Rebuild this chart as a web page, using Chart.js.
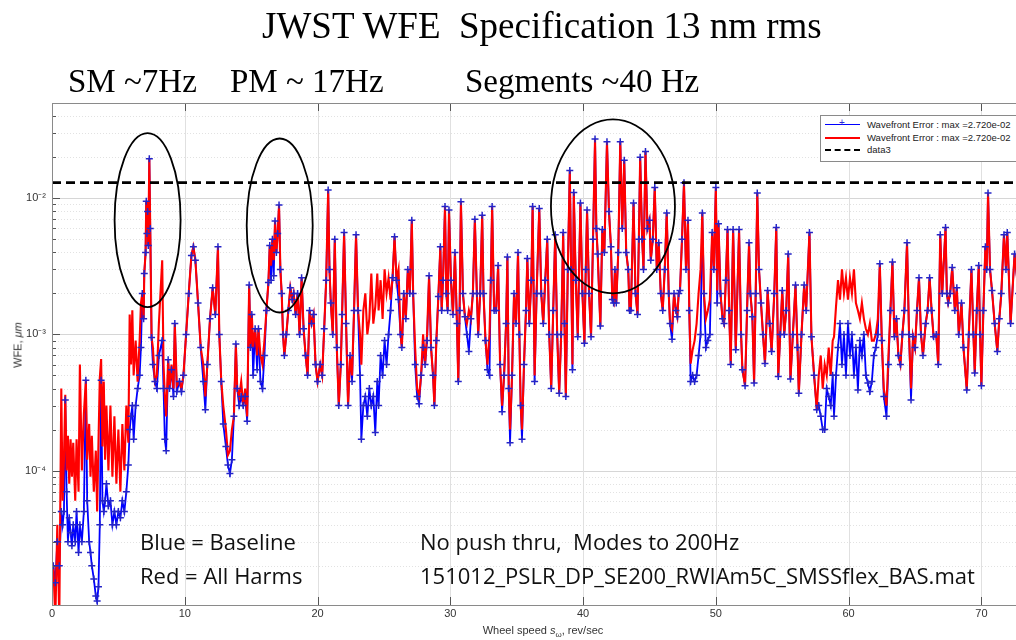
<!DOCTYPE html>
<html>
<head>
<meta charset="utf-8">
<title>JWST WFE</title>
<script src="https://cdn.jsdelivr.net/npm/chart.js@4.4.1/dist/chart.umd.min.js"></script>
<style>
  html, body { margin: 0; padding: 0; background: #fff; width: 1016px; height: 640px; overflow: hidden; }
  #wrap { position: relative; width: 1016px; height: 640px; overflow: hidden; }
  #plot { position: absolute; left: 0; top: 0; }
  .t { position: absolute; white-space: nowrap; line-height: 1; }
  .serif { font-family: "Liberation Serif", "Times New Roman", serif; color: #000; }
  .note { font-family: "Open Sans", "Noto Sans", sans-serif; font-size: 22px; color: #111; }
  .axis { font-family: "Liberation Sans Narrow", "Liberation Sans", Arial, sans-serif; font-size: 11px; color: #333; }
  .axis sub { font-size: 8px; vertical-align: -3px; line-height: 0; }
  #legend { position: absolute; left: 820px; top: 115px; width: 215px; height: 45px; border: 1px solid #8a8a8a; background: #fff;
            font-family: "Liberation Sans", Arial, sans-serif; font-size: 9.5px; color: #222; }
  .lrow { position: absolute; left: 46px; height: 12px; line-height: 12px; }
  .lsm { position: absolute; left: 4px; width: 35px; }
</style>
</head>
<body>
<div id="wrap">
  <canvas id="plot" width="1040" height="640"></canvas>

  <div class="t serif" style="left:262px;top:7px;font-size:37px">JWST WFE&nbsp; Specification 13 nm rms</div>
  <div class="t serif" style="left:68px;top:65px;font-size:33px">SM ~7Hz</div>
  <div class="t serif" style="left:230px;top:65px;font-size:33px">PM ~ 17Hz</div>
  <div class="t serif" style="left:465px;top:65px;font-size:33px">Segments ~40 Hz</div>

  <div class="t note" style="left:140px;top:530px">Blue = Baseline</div>
  <div class="t note" style="left:140px;top:564px">Red = All Harms</div>
  <div class="t note" style="left:420px;top:530px">No push thru,&nbsp; Modes to 200Hz</div>
  <div class="t note" style="left:420px;top:564px">151012_PSLR_DP_SE200_RWIAm5C_SMSSflex_BAS.mat</div>

  <div class="t axis" style="left:543px;top:625px;transform:translateX(-50%)">Wheel speed <i>s</i><sub>ω</sub>, rev/sec</div>
  <div class="t axis" style="left:18px;top:345px;transform:translate(-50%,-50%) rotate(-90deg)">WFE, <i>μm</i></div>

  <div id="legend">
    <div class="lsm" style="top:8px;border-top:1.5px solid #0000ff"></div>
    <div class="t" style="left:18px;top:2px;color:#2b2bd6;font-size:10px">+</div>
    <div class="lrow" style="top:3px">Wavefront Error : max =2.720e-02</div>
    <div class="lsm" style="top:21px;border-top:2px solid #ff0000"></div>
    <div class="lrow" style="top:16px">Wavefront Error : max =2.720e-02</div>
    <div class="lsm" style="top:33px;border-top:2.5px dashed #000"></div>
    <div class="lrow" style="top:28px">data3</div>
  </div>
</div>

<script>
// wheel speed (rev/sec) and WFE, in nm (converted to um below)
const freqHz = [
  0.1, 0.25, 0.4, 0.55, 0.7, 0.8, 0.9, 1.0, 1.1, 1.2, 1.3, 1.4, 1.5, 1.6, 1.75, 1.85, 2.0, 2.1, 2.25, 2.4, 2.55, 2.65, 2.8, 2.9, 3.0, 3.15, 3.3, 3.4,
  3.5, 3.6, 3.7, 3.8, 3.9, 4.0, 4.1, 4.25, 4.4, 4.55, 4.7, 4.85, 5.0, 5.15, 5.3, 5.45, 5.6, 5.75, 5.85, 5.95, 6.05, 6.15, 6.3, 6.45, 6.6, 6.7, 6.8, 6.9, 6.95,
  7.05, 7.1, 7.15, 7.2, 7.25, 7.33, 7.4, 7.5, 7.6, 7.75, 7.9, 8.05, 8.3, 8.4, 8.5, 8.6, 8.75, 8.85, 9.0, 9.15, 9.25, 9.4, 9.6, 9.75, 9.9, 10.1, 10.3, 10.5, 10.65, 10.8, 11.0, 11.2, 11.4, 11.55, 11.7, 11.9, 12.1,
  12.3, 12.5, 12.6, 12.75, 12.9, 13.1, 13.25, 13.4, 13.55, 13.7, 13.85, 13.95, 14.1, 14.25, 14.4, 14.55, 14.7, 14.85, 14.95, 15.05, 15.15, 15.3, 15.45, 15.55, 15.7, 15.85, 16.0, 16.15, 16.3, 16.4, 16.5, 16.6, 16.7, 16.8, 16.9, 17.0, 17.1,
  17.2, 17.3, 17.4, 17.5, 17.65, 17.8, 17.95, 18.1, 18.2, 18.35, 18.5, 18.65, 18.8, 18.95, 19.1, 19.25, 19.4, 19.55, 19.7, 19.85, 20.0, 20.2, 20.35, 20.5, 20.65, 20.8, 20.9, 21.0, 21.15, 21.3, 21.45, 21.6, 21.75, 21.85, 22.0, 22.15, 22.3, 22.45, 22.6, 22.75, 22.9, 23.05,
  23.2, 23.3, 23.45, 23.6, 23.75, 23.9, 24.05, 24.2, 24.35, 24.5, 24.6, 24.75, 24.9, 25.05, 25.2, 25.35, 25.5, 25.65, 25.8, 25.95, 26.1, 26.25, 26.35, 26.5, 26.65, 26.8, 26.95, 27.1, 27.2, 27.35, 27.5, 27.65, 27.8, 27.95, 28.1, 28.25, 28.4, 28.55, 28.7, 28.8, 28.95, 29.1,
  29.25, 29.35, 29.45, 29.6, 29.7, 29.8, 29.9, 30.05, 30.2, 30.35, 30.5, 30.6, 30.7, 30.8, 30.95, 31.1, 31.25, 31.4, 31.55, 31.7, 31.85, 32.0, 32.1, 32.25, 32.4, 32.5, 32.65, 32.8, 32.95, 33.05, 33.15, 33.3, 33.45, 33.6, 33.75, 33.9, 34.05, 34.2, 34.3, 34.4, 34.5, 34.65, 34.8, 34.95, 35.1, 35.2, 35.3, 35.4, 35.55, 35.7, 35.8, 35.95, 36.1, 36.2, 36.35,
  36.5, 36.7, 36.85, 37.0, 37.15, 37.3, 37.45, 37.6, 37.75, 37.9, 38.05, 38.2, 38.35, 38.5, 38.6, 38.7, 38.85, 39.0, 39.1, 39.2, 39.3, 39.45, 39.6, 39.8, 39.95, 40.1, 40.2, 40.3, 40.45, 40.6, 40.75, 40.9, 41.0, 41.1, 41.3, 41.45, 41.6, 41.8, 41.95, 42.1, 42.2, 42.3, 42.4, 42.5, 42.65, 42.8, 42.95, 43.1,
  43.25, 43.4, 43.5, 43.6, 43.8, 43.95, 44.1, 44.2, 44.3, 44.45, 44.55, 44.7, 44.85, 45.0, 45.1, 45.25, 45.4, 45.55, 45.7, 45.85, 46.0, 46.15, 46.3, 46.45, 46.55, 46.7, 46.85, 47.0, 47.1, 47.2, 47.3, 47.45, 47.6, 47.75, 47.9, 48.0, 48.1, 48.25,
  48.4, 48.55, 48.7, 48.85, 48.98, 49.1, 49.25, 49.4, 49.55, 49.72, 49.85, 50.0, 50.1, 50.2, 50.35, 50.5, 50.62, 50.75, 50.88, 51.0, 51.12, 51.3, 51.5, 51.75, 51.9, 52.0, 52.2, 52.35, 52.5, 52.6, 52.75, 52.88, 53.0, 53.12, 53.25, 53.4, 53.55, 53.7, 53.9, 54.05,
  54.2, 54.4, 54.55, 54.7, 54.85, 55.0, 55.15, 55.3, 55.45, 55.62, 55.8, 56.0, 56.15, 56.25, 56.45, 56.65, 56.8, 57.05, 57.2, 57.4, 57.6, 57.75, 57.9, 58.05, 58.2, 58.35, 58.5, 58.65, 58.8, 58.9, 59.05, 59.2, 59.35, 59.5, 59.65, 59.8, 59.95, 60.1, 60.25,
  60.4, 60.55, 60.7, 60.85, 61.0, 61.15, 61.3, 61.45, 61.6, 61.75, 61.9, 62.05, 62.2, 62.35, 62.5, 62.65, 62.85, 63.0, 63.15, 63.3, 63.45, 63.6, 63.75, 63.9, 64.05, 64.2, 64.4, 64.55, 64.7, 64.85, 65.0, 65.15, 65.3, 65.45, 65.6, 65.8, 65.95, 66.1, 66.25,
  66.4, 66.6, 66.75, 66.9, 67.05, 67.3, 67.4, 67.5, 67.65, 67.8, 68.0, 68.15, 68.3, 68.5, 68.65, 68.9, 69.05, 69.25, 69.4, 69.5, 69.65, 69.8, 69.9, 70.0, 70.15, 70.3, 70.4, 70.5, 70.65, 70.8, 71.0, 71.2, 71.35, 71.5, 71.7, 71.85, 71.95, 72.2, 72.5, 72.8
];

// Blue = Baseline
const baselineNm = [
  0.02, 0.015, 0.03, 0.02, 0.05, 0.04, 0.05, 0.33, 0.07, 0.03, 0.045, 0.035, 0.028, 0.04, 0.03, 0.05, 0.025, 0.04, 0.03, 0.05, 0.46, 0.06, 0.03, 0.025, 0.02, 0.016, 0.012, 0.011,
  0.014, 0.04, 0.46, 0.06, 0.05, 0.06, 0.08, 0.055, 0.06, 0.04, 0.05, 0.04, 0.05, 0.045, 0.06, 0.05, 0.07, 0.11, 0.2, 0.25, 0.3, 0.17, 0.3, 0.4, 0.5, 0.8, 2.0, 1.3, 2.8,
  4.0, 9.5, 5.5, 8.0, 4.5, 19.5, 6, 0.95, 0.6, 0.45, 0.4, 0.7, 0.9, 0.4, 0.17, 0.14, 0.65, 0.4, 0.55, 0.35, 1.2, 0.38, 0.45, 0.38, 0.5, 1.0, 2.0, 3.8, 4.4, 3.5, 1.7, 0.8, 0.45, 0.28, 0.6, 1.3, 2.2,
  1.4, 4.4, 1.0, 0.45, 0.22, 0.15, 0.11, 0.095, 0.12, 0.25, 0.85, 0.4, 0.3, 0.35, 0.3, 0.35, 0.23, 2.3, 0.8, 1.4, 0.5, 1.1, 0.55, 1.1, 0.45, 0.4, 0.7, 1.5, 2.4, 4.5, 2.5, 5, 2.7, 6.8, 4, 5.5, 8.9,
  3, 2.0, 1.0, 0.7, 1.0, 1.5, 2.2, 1.8, 2.0, 1.4, 2.0, 1.0, 2.6, 1.1, 0.7, 0.5, 1.5, 1.2, 1.4, 0.6, 0.45, 0.6, 0.5, 1.1, 2.5, 11.5, 3, 1.7, 1.0, 5.0, 0.8, 0.3, 0.6, 1.4, 5.6, 1.2, 0.3, 0.7, 0.45, 1.5, 5.4, 1.5,
  0.5, 0.17, 0.3, 0.35, 0.25, 0.4, 0.3, 0.35, 0.19, 0.45, 0.3, 0.7, 0.5, 0.9, 0.6, 1.0, 1.5, 2.6, 5.2, 2.5, 1.8, 1.0, 0.8, 2.0, 1.3, 3.0, 2.0, 6.9, 2.0, 0.6, 0.35, 0.31, 0.5, 0.8, 0.6, 0.9, 2.7, 0.8, 0.5, 0.3, 0.9, 1.9,
  4.4, 1.5, 2.5, 8.7, 2.0, 1.5, 8.2, 2.5, 1.4, 4.0, 1.2, 0.45, 1.5, 9.4, 2.0, 1.35, 1.0, 0.75, 1.3, 2.0, 7.0, 2.0, 1.0, 2.0, 7.5, 2.0, 0.9, 0.55, 0.5, 2.5, 8.7, 1.5, 1.5, 3.2, 0.6, 0.27, 0.5, 1.2, 3.7, 0.4, 0.16, 0.5, 2.0, 1.2, 4.0, 1.0, 0.3, 0.17, 0.6, 1.5, 3.6, 1.2, 2.5, 8.7, 0.45,
  2.0, 8.4, 2.0, 1.2, 2.5, 5.0, 1.0, 0.4, 1.5, 5.4, 1.0, 0.37, 1.0, 5.6, 1.2, 0.35, 3.0, 16, 3.0, 0.55, 11, 2.5, 0.96, 9.2, 2.0, 0.86, 3.0, 8.2, 2.0, 0.96, 5.0, 27.2, 6.0, 3.9, 1.15, 5.9, 4.0, 26, 8.0, 4.4, 1.8, 1.7, 3.0, 1.7, 4.0, 26, 6.0, 19,
  4.0, 3.0, 1.5, 1.5, 9.2, 2.0, 1.4, 5, 20, 5.0, 3.0, 22, 6.0, 6.9, 3.5, 5.0, 12, 3.0, 4.7, 2.0, 1.5, 3.0, 7.8, 2.0, 1.2, 0.92, 2.0, 1.5, 1.35, 2.0, 2.1, 5.0, 13, 3.0, 6.9, 1.5, 0.45, 0.5,
  0.45, 0.5, 0.7, 1.0, 7.8, 2.0, 0.8, 0.9, 1.0, 5.6, 3.0, 12, 1.7, 6.5, 2.0, 1.3, 1.2, 2.5, 5.9, 1.5, 0.6, 5.9, 0.77, 5.9, 1.0, 0.55, 0.42, 1.5, 4.7, 2.0, 1.35, 0.44, 2.0, 10.9, 3.0, 1.7, 1.0, 0.61, 2.1, 1.2,
  0.75, 2.0, 6.1, 0.49, 1.0, 2.1, 1.0, 1.5, 3.9, 0.47, 1.0, 2.3, 0.8, 0.37, 1.0, 2.3, 1.5, 5.6, 0.96, 0.5, 0.28, 0.3, 0.25, 0.2, 0.2, 0.4, 0.35, 0.3, 0.5, 0.25, 0.5, 0.8, 1.2, 0.6, 1.0, 0.5, 1.2, 0.7, 1.0,
  0.5, 0.8, 0.39, 0.9, 0.7, 1.0, 0.5, 0.44, 0.38, 0.45, 0.7, 0.8, 1.0, 3.3, 0.9, 0.35, 0.25, 0.6, 1.5, 3.4, 0.96, 1.3, 0.7, 0.6, 1.0, 1.5, 4.7, 1.0, 0.33, 0.96, 0.8, 1.5, 2.6, 1.0, 0.7, 1.2, 1.5, 2.6, 1.5,
  0.96, 1.0, 0.6, 5.4, 2.0, 6.1, 2.0, 1.7, 2.0, 3.1, 1.5, 2.2, 1.0, 1.7, 0.8, 0.39, 1.0, 3.0, 1.0, 0.52, 1.5, 3.2, 1.0, 0.42, 1.5, 4.4, 3.0, 10.9, 3.0, 2.1, 1.2, 0.75, 1.3, 2.0, 5.4, 3.0, 5.6, 1.2, 3.9, 2.0
];

// Red = All Harms
const allHarmsNm = [
  0.02, 0.008, 0.04, 0.008, 0.4, 0.06, 0.12, 0.36, 0.1, 0.18, 0.08, 0.17, 0.09, 0.16, 0.06, 0.17, 0.07, 0.6, 0.1, 0.26, 0.46, 0.12, 0.22, 0.09, 0.18, 0.07, 0.14, 0.05,
  0.16, 0.48, 0.66, 0.15, 0.45, 0.12, 0.3, 0.1, 0.3, 0.09, 0.25, 0.08, 0.2, 0.07, 0.22, 0.1, 0.3, 0.16, 1.4, 0.6, 1.5, 0.5, 0.9, 0.45, 0.9, 1.7, 2.0, 1.3, 2.8,
  4.0, 9.5, 5.5, 8.0, 4.5, 19.5, 6, 0.95, 0.8, 0.45, 0.5, 1.2, 3.5, 0.6, 0.35, 0.25, 0.65, 0.4, 0.6, 0.4, 1.2, 0.42, 0.45, 0.4, 0.5, 1.0, 2.0, 3.8, 4.4, 3.5, 1.7, 0.8, 0.6, 0.35, 0.6, 1.3, 2.2,
  1.4, 4.4, 1.0, 0.45, 0.3, 0.2, 0.13, 0.14, 0.2, 0.25, 0.85, 0.4, 0.35, 0.45, 0.3, 0.4, 0.25, 2.3, 0.8, 1.4, 0.8, 1.1, 0.7, 1.1, 0.7, 0.6, 0.9, 1.5, 2.4, 4.5, 3.2, 5, 3.5, 6.8, 4, 5.5, 8.9,
  3, 2.0, 1.0, 0.7, 1.0, 1.5, 2.2, 1.8, 2.0, 1.4, 2.0, 1.0, 2.6, 1.1, 0.7, 0.5, 1.5, 1.2, 1.4, 0.6, 0.45, 0.6, 0.5, 1.1, 2.5, 11.5, 3, 1.7, 1.0, 5.0, 0.8, 0.3, 0.6, 1.4, 5.6, 1.2, 0.3, 0.7, 0.5, 1.5, 5.4, 1.5,
  1.0, 0.6, 1.5, 2.0, 1.0, 1.3, 2.8, 1.2, 1.6, 2.8, 1.5, 2.5, 1.3, 3.0, 2.0, 2.6, 1.8, 2.6, 5.2, 2.5, 3.0, 1.0, 0.8, 2.0, 1.3, 3.0, 2.0, 6.9, 2.0, 0.8, 0.4, 0.35, 0.5, 1.0, 0.6, 1.0, 2.7, 0.8, 0.5, 0.3, 0.9, 1.9,
  4.4, 1.5, 2.5, 8.7, 2.0, 1.5, 8.2, 2.5, 1.4, 4.0, 1.2, 0.45, 1.5, 9.4, 2.0, 1.35, 1.2, 1.5, 1.3, 2.0, 7.0, 2.0, 1.0, 2.0, 7.5, 2.0, 0.9, 0.6, 1.0, 2.5, 8.7, 1.5, 1.5, 3.2, 0.6, 0.3, 0.5, 1.2, 3.7, 0.4, 0.2, 0.5, 2.0, 1.2, 4.0, 1.0, 0.3, 0.2, 0.6, 1.5, 3.6, 1.2, 2.5, 8.7, 0.5,
  2.0, 8.4, 2.0, 1.2, 2.5, 5.0, 1.0, 0.4, 1.5, 5.4, 1.0, 0.37, 1.0, 5.6, 1.2, 0.35, 3.0, 16, 3.0, 0.6, 11, 2.5, 0.96, 9.2, 2.0, 0.86, 3.0, 8.2, 2.0, 0.96, 5.0, 27.2, 6.0, 3.9, 1.15, 5.9, 4.0, 26, 8.0, 4.4, 1.8, 1.7, 3.0, 1.7, 4.0, 26, 6.0, 19,
  4.0, 3.0, 1.5, 1.5, 9.2, 2.0, 1.4, 5, 20, 5.0, 3.0, 22, 6.0, 6.9, 3.5, 5.0, 12, 3.0, 4.7, 2.0, 1.5, 3.0, 7.8, 2.0, 1.2, 1.1, 2.0, 1.5, 1.35, 2.0, 2.1, 5.0, 13, 3.0, 6.9, 1.5, 0.61, 0.77,
  0.9, 1.2, 2.0, 3.0, 7.8, 2.0, 1.3, 1.5, 1.8, 5.6, 3.0, 12, 2.1, 6.5, 2.0, 1.3, 1.2, 2.5, 5.9, 1.5, 0.6, 5.9, 0.77, 5.9, 1.0, 0.55, 0.42, 1.5, 4.7, 2.0, 1.35, 0.44, 2.0, 10.9, 3.0, 1.7, 1.0, 0.61, 2.1, 1.2,
  0.75, 2.0, 6.1, 0.49, 1.0, 2.1, 1.0, 1.5, 3.9, 0.47, 1.0, 2.3, 0.8, 0.37, 1.0, 2.3, 1.5, 5.6, 0.96, 0.5, 0.28, 0.5, 0.7, 0.4, 0.6, 0.5, 0.8, 0.5, 0.9, 0.96, 1.6, 2.5, 1.8, 3.0, 2.0, 2.6, 1.8, 2.6, 2.0,
  3.0, 1.7, 1.5, 1.3, 1.7, 1.3, 1.1, 1.0, 1.2, 0.9, 0.9, 1.0, 1.3, 3.3, 0.9, 0.4, 0.3, 0.7, 1.5, 3.4, 0.96, 1.3, 0.7, 0.6, 1.0, 1.5, 4.7, 1.0, 0.4, 0.96, 0.8, 1.5, 2.6, 1.0, 0.7, 1.2, 1.5, 2.6, 1.5,
  0.96, 1.0, 0.6, 5.4, 2.0, 6.1, 2.0, 1.7, 2.0, 3.1, 1.5, 2.2, 1.0, 1.7, 0.8, 0.39, 1.0, 3.0, 1.0, 0.52, 1.5, 3.2, 1.0, 0.42, 1.5, 4.4, 3.0, 10.9, 3.0, 2.1, 1.2, 0.75, 1.3, 2.0, 5.4, 3.0, 5.6, 1.2, 3.9, 2.0
];

const specLimitUm = 0.013;   // 13 nm rms
const xTickValues = [0, 10, 20, 30, 40, 50, 60, 70];
const yDecades = [-5, -4, -3, -2];
// circled regions: centre (rev/sec, um), radii in px
const circledRegions = [
  { f: 7.2, v: 6.9e-3, rx: 33, ry: 87 },
  { f: 17.15, v: 6.3e-3, rx: 33, ry: 87 },
  { f: 42.25, v: 8.7e-3, rx: 62, ry: 87 }
];

const toPoints = (vals) => freqHz.map((f, i) => ({ x: f, y: vals[i] / 1000 }));
const baselinePts = toPoints(baselineNm);
const allHarmsPts = toPoints(allHarmsNm);

const yMin = 1.03e-5;
const yMax = 0.05;
const yTickValues = [];
yDecades.forEach(e => {
  for (let m = 1; m <= 9; m++) {
    const v = Number((m * Math.pow(10, e)).toPrecision(3));
    if (v >= yMin && v <= yMax) yTickValues.push(v);
  }
});

const SUP = { '-': '\u207B', '0': '\u2070', '1': '\u00B9', '2': '\u00B2', '3': '\u00B3', '4': '\u2074', '5': '\u2075' };
const isDecade = (v) => Math.abs(Math.log10(v) - Math.round(Math.log10(v))) < 1e-6;

const tickFont = { family: '"Liberation Sans Narrow", "Liberation Sans", Arial, sans-serif', size: 11 };

const frameDecor = {
  id: 'frameDecor',
  beforeDatasetsDraw(chart) {
    const { ctx, chartArea: a, scales: { x, y } } = chart;
    ctx.save();
    ctx.lineWidth = 1;
    y.ticks.forEach(t => {
      const py = Math.round(y.getPixelForValue(t.value)) + 0.5;
      const major = isDecade(t.value);
      ctx.strokeStyle = major ? '#d6d6d6' : '#e2e2e2';
      ctx.setLineDash(major ? [] : [1, 2]);
      ctx.beginPath(); ctx.moveTo(a.left, py); ctx.lineTo(a.right, py); ctx.stroke();
    });
    ctx.setLineDash([]);
    ctx.strokeStyle = '#e0e0e0';
    x.ticks.forEach(t => {
      const px = Math.round(x.getPixelForValue(t.value)) + 0.5;
      ctx.beginPath(); ctx.moveTo(px, a.top); ctx.lineTo(px, a.bottom); ctx.stroke();
    });
    ctx.restore();
  },
  afterDatasetsDraw(chart) {
    const { ctx, chartArea: a, scales: { x, y } } = chart;
    ctx.save();
    // circled regions
    ctx.strokeStyle = '#000';
    ctx.lineWidth = 1.8;
    circledRegions.forEach(r => {
      ctx.beginPath();
      ctx.ellipse(x.getPixelForValue(r.f), y.getPixelForValue(r.v), r.rx, r.ry, 0, 0, Math.PI * 2);
      ctx.stroke();
    });
    // inner tick marks
    ctx.strokeStyle = '#555';
    ctx.lineWidth = 1;
    y.ticks.forEach(t => {
      const py = Math.round(y.getPixelForValue(t.value)) + 0.5;
      const len = isDecade(t.value) ? 8 : 4;
      ctx.beginPath(); ctx.moveTo(a.left, py); ctx.lineTo(a.left + len, py); ctx.stroke();
    });
    x.ticks.forEach(t => {
      const px = Math.round(x.getPixelForValue(t.value)) + 0.5;
      ctx.beginPath(); ctx.moveTo(px, a.bottom); ctx.lineTo(px, a.bottom - 8); ctx.stroke();
      ctx.beginPath(); ctx.moveTo(px, a.top); ctx.lineTo(px, a.top + 8); ctx.stroke();
    });
    ctx.strokeStyle = '#8a8a8a';
    ctx.strokeRect(a.left + 0.5, a.top + 0.5, a.right - a.left, a.bottom - a.top);
    ctx.restore();
  }
};

new Chart(document.getElementById('plot'), {
  type: 'line',
  data: {
    datasets: [
      { data: baselinePts, borderColor: '#0000ff', borderWidth: 1.8, pointRadius: 0, order: 3 },
      { data: allHarmsPts, borderColor: '#ff0000', borderWidth: 2.1, pointRadius: 0, order: 2 },
      { data: baselinePts, showLine: false, pointStyle: 'cross', pointRadius: 3.5,
        pointBorderColor: '#2424c8', pointBorderWidth: 1.5, order: 1 },
      { data: [{ x: 0, y: specLimitUm }, { x: 74, y: specLimitUm }], borderColor: '#000', borderWidth: 2.6,
        borderDash: [9, 5], pointRadius: 0, order: 0 }
    ]
  },
  options: {
    responsive: false,
    animation: false,
    layout: { padding: { top: 103, right: 4, left: 0, bottom: 0 } },
    plugins: { legend: { display: false }, tooltip: { enabled: false } },
    scales: {
      x: {
        type: 'linear', min: 0, max: 74,
        afterBuildTicks: (s) => { s.ticks = xTickValues.map(v => ({ value: v })); },
        afterFit: (s) => { s.height = 35; },
        grid: { display: false, drawTicks: false },
        border: { display: false },
        ticks: { padding: 2, font: tickFont, color: '#333', maxRotation: 0, autoSkip: false }
      },
      y: {
        type: 'logarithmic', min: yMin, max: yMax,
        afterBuildTicks: (s) => { s.ticks = yTickValues.map(v => ({ value: v })); },
        afterFit: (s) => { s.width = 52; },
        grid: { display: false, drawTicks: false },
        border: { display: false },
        ticks: {
          padding: 6, font: tickFont, color: '#333', autoSkip: false,
          callback: (v) => {
            if (!isDecade(v)) return '';
            const e = Math.round(Math.log10(v));
            if (e < -4) return '';
            return '10' + String(e).split('').map(c => SUP[c]).join('');
          }
        }
      }
    }
  },
  plugins: [frameDecor]
});
</script>
</body>
</html>
